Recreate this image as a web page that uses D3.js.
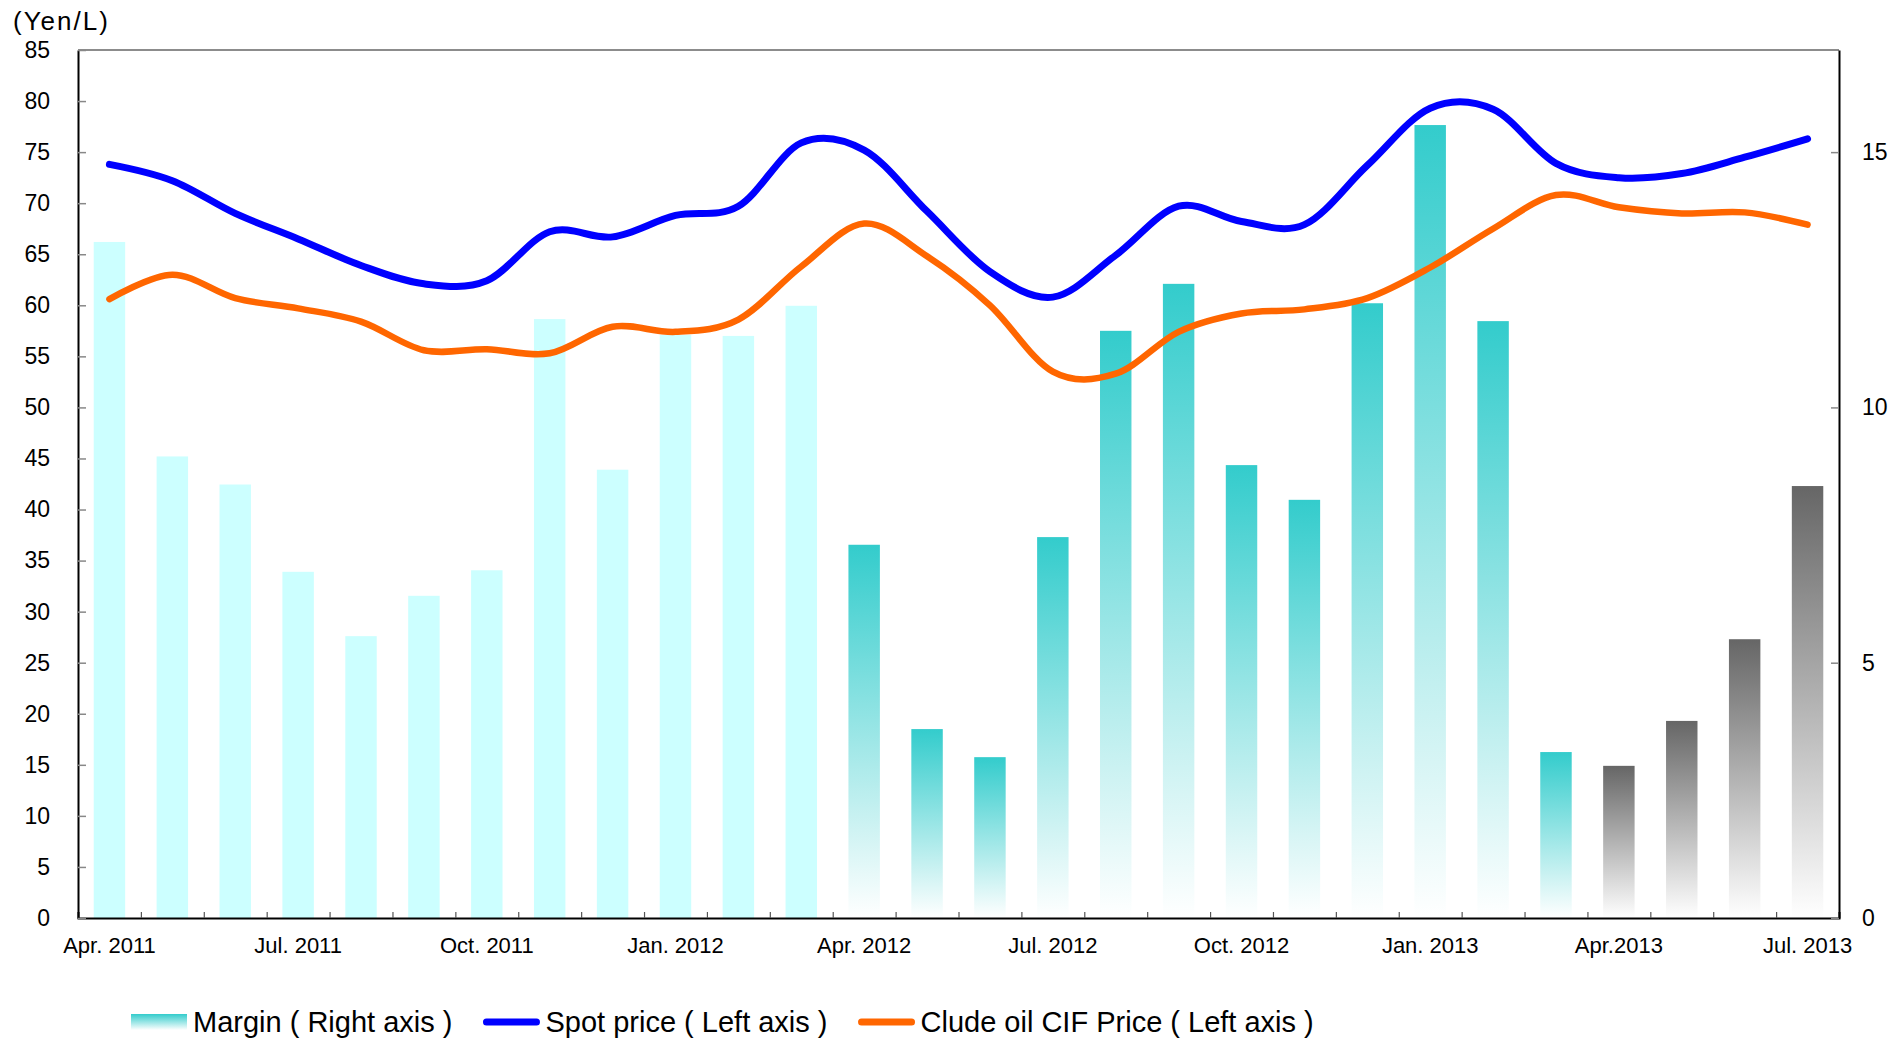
<!DOCTYPE html>
<html>
<head>
<meta charset="utf-8">
<script src="https://cdn.jsdelivr.net/npm/d3@7"></script>
<style>
  html, body { margin: 0; padding: 0; background: #fff; }
  svg { display: block; font-family: "Liberation Sans", Arial, sans-serif; }
</style>
</head>
<body>
<svg id="chart" width="1903" height="1040"></svg>
<script>
// Monthly series, April 2011 – July 2013
const months = [
  "2011-04","2011-05","2011-06","2011-07","2011-08","2011-09","2011-10","2011-11","2011-12",
  "2012-01","2012-02","2012-03","2012-04","2012-05","2012-06","2012-07","2012-08","2012-09",
  "2012-10","2012-11","2012-12","2013-01","2013-02","2013-03","2013-04","2013-05","2013-06","2013-07"
];

// Margin (Yen/L, right axis)
const margin = [
  13.24, 9.04, 8.49, 6.78, 5.52, 6.31, 6.81, 11.73, 8.78,
  11.42, 11.40, 11.99, 7.31, 3.70, 3.15, 7.46, 11.50, 12.42,
  8.87, 8.19, 12.04, 15.53, 11.69, 3.25, 2.98, 3.86, 5.46, 8.46
];

// Spot price (Yen/L, left axis)
const spotPrice = [
  73.8, 72.2, 69.0, 66.5, 63.9, 62.1, 62.4, 67.2, 66.7,
  68.8, 69.7, 75.9, 75.2, 69.2, 63.3, 60.8, 64.9, 69.7,
  68.2, 67.9, 73.7, 79.3, 79.2, 73.9, 72.5, 72.9, 74.5, 76.3
];

// Crude oil CIF price (Yen/L, left axis)
const crudeCif = [
  60.6, 63.0, 60.7, 59.7, 58.4, 55.6, 55.7, 55.3, 57.9,
  57.4, 58.6, 63.8, 68.0, 64.8, 60.0, 53.5, 53.3, 57.4,
  59.2, 59.6, 60.7, 63.7, 67.5, 70.8, 69.6, 69.0, 69.1, 67.9
];

// Axis ticks and labels
const labelMonths = ["2011-04","2011-07","2011-10","2012-01","2012-04","2012-07","2012-10","2013-01","2013-04","2013-07"];
const labelTexts  = ["Apr. 2011","Jul. 2011","Oct. 2011","Jan. 2012","Apr. 2012","Jul. 2012","Oct. 2012","Jan. 2013","Apr.2013","Jul. 2013"];
const leftTicks  = [0, 5, 10, 15, 20, 25, 30, 35, 40, 45, 50, 55, 60, 65, 70, 75, 80, 85];
const rightTicks = [0, 5, 10, 15];

const legendLabels = ["Margin ( Right axis )", "Spot price ( Left axis )", "Clude oil CIF Price ( Left axis )"];

// ---------------------------------------------------------------------------
const svg = d3.select("#chart");
const L = 78, R = 1839, T = 50, B = 918;

const x = d3.scaleBand().domain(months).range([L, R]).paddingInner(0.5).paddingOuter(0.25);
const xIdx = d3.scaleLinear().domain([0, months.length]).range([L, R]);
const yL = d3.scaleLinear().domain([0, 85]).range([B, T]);
const yR = d3.scaleLinear().domain([0, 17]).range([B, T]);

// Bar fills by Japanese fiscal year (April start)
const fiscalYear = m => { const [y, mo] = m.split("-").map(Number); return mo >= 4 ? y : y - 1; };
const defs = svg.append("defs");
function vGrad(id, top) {
  const g = defs.append("linearGradient").attr("id", id)
    .attr("x1", 0).attr("y1", 0).attr("x2", 0).attr("y2", 1);
  g.append("stop").attr("offset", "0%").attr("stop-color", top);
  g.append("stop").attr("offset", "100%").attr("stop-color", "#ffffff");
}
vGrad("g-teal", "#33cccc");
vGrad("g-gray", "#666666");
const fillFor = { 2011: "#ccffff", 2012: "url(#g-teal)", 2013: "url(#g-gray)" };

// Bars
svg.append("g").selectAll("rect").data(months).join("rect")
  .attr("x", d => x(d))
  .attr("width", x.bandwidth())
  .attr("y", (d, i) => yR(margin[i]))
  .attr("height", (d, i) => B - yR(margin[i]))
  .attr("fill", d => fillFor[fiscalYear(d)]);

// Frame top
svg.append("line").attr("x1", L).attr("x2", R).attr("y1", T).attr("y2", T)
  .attr("stroke", "#8c8c8c").attr("stroke-width", 2);

// Bottom: month boundary ticks
const gBound = svg.append("g").attr("transform", `translate(0,${B})`)
  .call(d3.axisBottom(xIdx).tickValues(d3.range(1, months.length)).tickSize(-6).tickFormat(""));
gBound.select(".domain").attr("stroke", "#000").attr("stroke-width", 2);
gBound.selectAll(".tick line").attr("stroke", "#555").attr("stroke-width", 1.2);

// Bottom: labels
const gLab = svg.append("g").attr("transform", `translate(0,${B})`)
  .call(d3.axisBottom(x).tickValues(labelMonths)
    .tickFormat(d => labelTexts[labelMonths.indexOf(d)]).tickSize(0).tickPadding(19));
gLab.select(".domain").remove();
gLab.selectAll("text").attr("font-size", 22).attr("fill", "#000")
  .attr("font-family", "'Liberation Sans', Arial, sans-serif");

// Left axis
const gL = svg.append("g").attr("transform", `translate(${L},0)`)
  .call(d3.axisLeft(yL).tickValues(leftTicks).tickSizeInner(-8).tickSizeOuter(0).tickPadding(28));
gL.select(".domain").attr("stroke", "#000").attr("stroke-width", 2);
gL.selectAll(".tick line").attr("stroke", "#888").attr("stroke-width", 1.5);
gL.selectAll("text").attr("font-size", 23).attr("fill", "#000")
  .attr("font-family", "'Liberation Sans', Arial, sans-serif");

// Right axis
const gR = svg.append("g").attr("transform", `translate(${R},0)`)
  .call(d3.axisRight(yR).tickValues(rightTicks).tickSizeInner(-8).tickSizeOuter(0).tickPadding(23));
gR.select(".domain").attr("stroke", "#000").attr("stroke-width", 2);
gR.selectAll(".tick line").attr("stroke", "#888").attr("stroke-width", 1.5);
gR.selectAll("text").attr("font-size", 23).attr("fill", "#000")
  .attr("font-family", "'Liberation Sans', Arial, sans-serif");

// Unit label
svg.append("text").attr("x", 13).attr("y", 30)
  .attr("font-size", 26).attr("letter-spacing", 2).attr("fill", "#000")
  .text("(Yen/L)");

// Lines
const cx = i => x(months[i]) + x.bandwidth() / 2;
const lineGen = d3.line().x((d, i) => cx(i)).y(d => yL(d)).curve(d3.curveCardinal.tension(0));
svg.append("path").attr("d", lineGen(crudeCif)).attr("fill", "none")
  .attr("stroke", "#ff6600").attr("stroke-width", 6.5)
  .attr("stroke-linecap", "round").attr("stroke-linejoin", "round");
svg.append("path").attr("d", lineGen(spotPrice)).attr("fill", "none")
  .attr("stroke", "#0000ff").attr("stroke-width", 7)
  .attr("stroke-linecap", "round").attr("stroke-linejoin", "round");

// Legend
const legend = svg.append("g").attr("transform", "translate(131,1022)");
const swW = 56, swGap = 6, itemGap = 31;
let lx = 0;
legendLabels.forEach((label, i) => {
  if (i === 0) {
    legend.append("rect").attr("x", lx).attr("y", -8).attr("width", swW).attr("height", 16)
      .attr("fill", "url(#g-teal)");
  } else {
    legend.append("line").attr("x1", lx + 3).attr("x2", lx + swW - 3).attr("y1", 0).attr("y2", 0)
      .attr("stroke", i === 1 ? "#0000ff" : "#ff6600").attr("stroke-width", 7)
      .attr("stroke-linecap", "round");
  }
  const t = legend.append("text").attr("x", lx + swW + swGap).attr("y", 10)
    .attr("font-size", 29).attr("fill", "#000").text(label);
  lx += swW + swGap + t.node().getComputedTextLength() + itemGap;
});
</script>
</body>
</html>
